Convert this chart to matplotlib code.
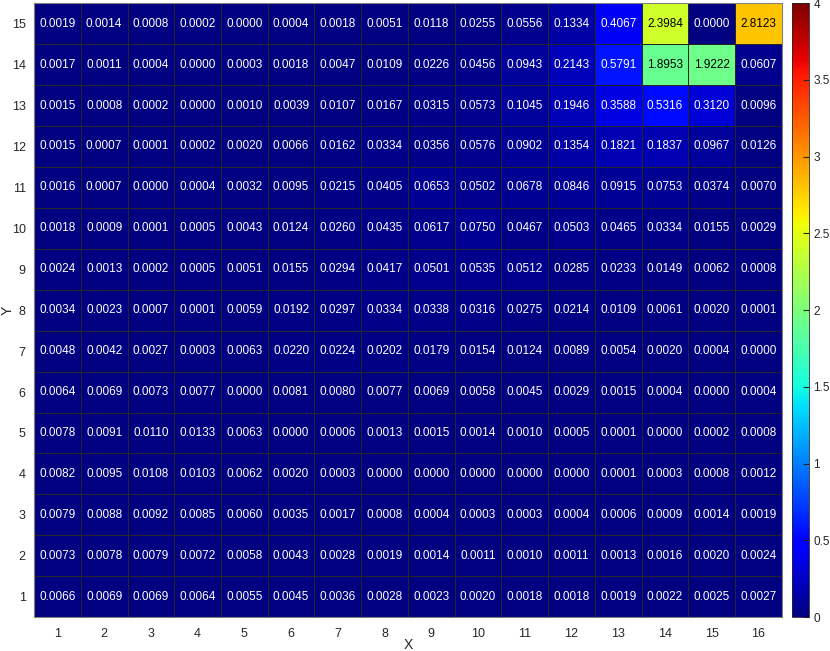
import matplotlib
matplotlib.use("Agg")
import matplotlib.pyplot as plt
import numpy as np

plt.rcParams['font.family'] = ['Liberation Sans', 'DejaVu Sans']

x_labels = list(range(1, 17))
y_labels = list(range(1, 16))

# rows from Y=1 (bottom) to Y=15 (top)
values = [
    [0.0066, 0.0069, 0.0069, 0.0064, 0.0055, 0.0045, 0.0036, 0.0028, 0.0023, 0.0020, 0.0018, 0.0018, 0.0019, 0.0022, 0.0025, 0.0027],
    [0.0073, 0.0078, 0.0079, 0.0072, 0.0058, 0.0043, 0.0028, 0.0019, 0.0014, 0.0011, 0.0010, 0.0011, 0.0013, 0.0016, 0.0020, 0.0024],
    [0.0079, 0.0088, 0.0092, 0.0085, 0.0060, 0.0035, 0.0017, 0.0008, 0.0004, 0.0003, 0.0003, 0.0004, 0.0006, 0.0009, 0.0014, 0.0019],
    [0.0082, 0.0095, 0.0108, 0.0103, 0.0062, 0.0020, 0.0003, 0.0000, 0.0000, 0.0000, 0.0000, 0.0000, 0.0001, 0.0003, 0.0008, 0.0012],
    [0.0078, 0.0091, 0.0110, 0.0133, 0.0063, 0.0000, 0.0006, 0.0013, 0.0015, 0.0014, 0.0010, 0.0005, 0.0001, 0.0000, 0.0002, 0.0008],
    [0.0064, 0.0069, 0.0073, 0.0077, 0.0000, 0.0081, 0.0080, 0.0077, 0.0069, 0.0058, 0.0045, 0.0029, 0.0015, 0.0004, 0.0000, 0.0004],
    [0.0048, 0.0042, 0.0027, 0.0003, 0.0063, 0.0220, 0.0224, 0.0202, 0.0179, 0.0154, 0.0124, 0.0089, 0.0054, 0.0020, 0.0004, 0.0000],
    [0.0034, 0.0023, 0.0007, 0.0001, 0.0059, 0.0192, 0.0297, 0.0334, 0.0338, 0.0316, 0.0275, 0.0214, 0.0109, 0.0061, 0.0020, 0.0001],
    [0.0024, 0.0013, 0.0002, 0.0005, 0.0051, 0.0155, 0.0294, 0.0417, 0.0501, 0.0535, 0.0512, 0.0285, 0.0233, 0.0149, 0.0062, 0.0008],
    [0.0018, 0.0009, 0.0001, 0.0005, 0.0043, 0.0124, 0.0260, 0.0435, 0.0617, 0.0750, 0.0467, 0.0503, 0.0465, 0.0334, 0.0155, 0.0029],
    [0.0016, 0.0007, 0.0000, 0.0004, 0.0032, 0.0095, 0.0215, 0.0405, 0.0653, 0.0502, 0.0678, 0.0846, 0.0915, 0.0753, 0.0374, 0.0070],
    [0.0015, 0.0007, 0.0001, 0.0002, 0.0020, 0.0066, 0.0162, 0.0334, 0.0356, 0.0576, 0.0902, 0.1354, 0.1821, 0.1837, 0.0967, 0.0126],
    [0.0015, 0.0008, 0.0002, 0.0000, 0.0010, 0.0039, 0.0107, 0.0167, 0.0315, 0.0573, 0.1045, 0.1946, 0.3588, 0.5316, 0.3120, 0.0096],
    [0.0017, 0.0011, 0.0004, 0.0000, 0.0003, 0.0018, 0.0047, 0.0109, 0.0226, 0.0456, 0.0943, 0.2143, 0.5791, 1.8953, 1.9222, 0.0607],
    [0.0019, 0.0014, 0.0008, 0.0002, 0.0000, 0.0004, 0.0018, 0.0051, 0.0118, 0.0255, 0.0556, 0.1334, 0.4067, 2.3984, 0.0000, 2.8123],
]

cbar_ticks = [0, 0.5, 1, 1.5, 2, 2.5, 3, 3.5, 4]


def main():
    data = np.array(values)
    fig = plt.figure(figsize=(8.3, 6.51), dpi=100)
    ax = fig.add_axes([0.041, 0.052, 0.901, 0.943])
    cax = fig.add_axes([0.954, 0.052, 0.021, 0.943])

    xe = np.arange(0.5, len(x_labels) + 1, 1)
    ye = np.arange(0.5, len(y_labels) + 1, 1)
    mesh = ax.pcolormesh(xe, ye, data, cmap='jet', vmin=0, vmax=4,
                         edgecolors='#262626', linewidth=0.5)

    for i, yv in enumerate(y_labels):
        for j, xv in enumerate(x_labels):
            v = data[i, j]
            col = 'black' if v > 1.5 else 'white'
            ax.text(xv, yv, f"{v:.4f}", ha='center', va='center',
                    fontsize=8.5, color=col)

    ax.set_xlim(0.5, 16.5)
    ax.set_ylim(0.5, 15.5)
    ax.set_xticks(x_labels)
    ax.set_yticks(y_labels)
    ax.tick_params(direction='in', length=0, labelsize=9, colors='#262626')
    ax.tick_params(axis='x', pad=8)
    ax.tick_params(axis='y', pad=6)
    for s in ax.spines.values():
        s.set_color('#808080')
        s.set_linewidth(0.8)
    ax.set_xlabel('X', fontsize=10, color='#262626', va='center')
    ax.set_ylabel('Y', fontsize=10, color='#262626', va='center')
    ax.xaxis.set_label_coords(0.5, -0.0456)
    ax.yaxis.set_label_coords(-0.035, 0.5)

    cb = fig.colorbar(mesh, cax=cax, ticks=cbar_ticks)
    cb.ax.set_yticklabels([f"{t:g}" for t in cbar_ticks])
    cb.ax.tick_params(direction='in', length=4, pad=3, labelsize=8.5, colors='#262626')
    cb.outline.set_edgecolor('#262626')
    cb.outline.set_linewidth(0.6)

    fig.savefig('out.png', dpi=100)


if __name__ == "__main__":
    main()
